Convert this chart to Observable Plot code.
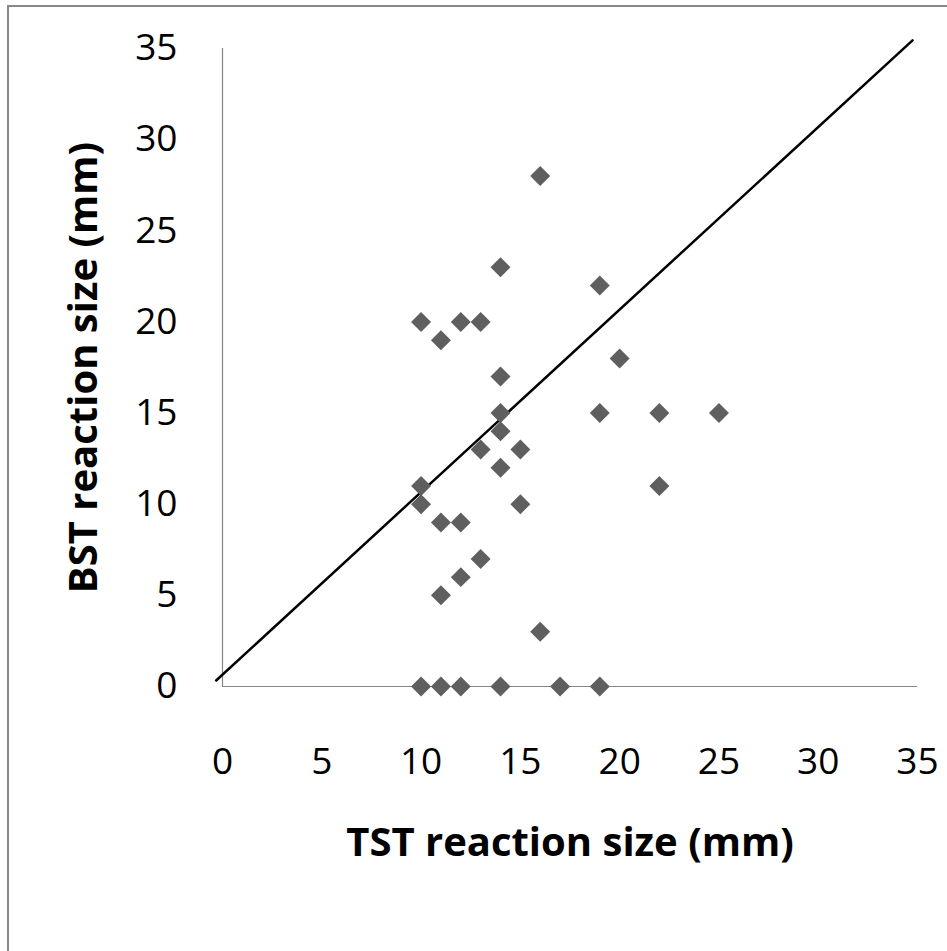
<!DOCTYPE html>
<html>
<head>
<meta charset="utf-8">
<script src="https://cdn.jsdelivr.net/npm/d3@7"></script>
<script src="https://cdn.jsdelivr.net/npm/@observablehq/plot@0.6"></script>
<style>
  html, body { margin: 0; padding: 0; background: #fff; overflow: hidden; }
  #wrap { position: relative; width: 947px; height: 951px; }
  #frame { position: absolute; left: 7px; top: 5px; width: 945px; height: 950px;
           border-top: 2.5px solid #888; border-left: 2.5px solid #888; box-sizing: border-box; pointer-events: none; }
  #chart { position: absolute; left: 0; top: 0; }
</style>
</head>
<body>
<div id="wrap"><div id="chart"></div><div id="frame"></div></div>
<script>
// TST (x) and BST (y) reaction sizes, mm
const tst = [16, 14, 19, 10, 12, 13, 11, 20, 14, 14, 19, 22, 25, 14, 13, 15, 14, 10, 22, 10, 15, 11, 12, 13, 12, 11, 16, 10, 11, 12, 14, 17, 19];
const bst = [28, 23, 22, 20, 20, 20, 19, 18, 17, 15, 15, 15, 15, 14, 13, 13, 12, 11, 11, 10, 10, 9, 9, 7, 6, 5, 3, 0, 0, 0, 0, 0, 0];
// reference (identity) line endpoints
const refX = [-0.32, 34.75];
const refY = [0.33, 35.45];
const ticks = [0, 5, 10, 15, 20, 25, 30, 35];
const xTitle = "TST reaction size (mm)";
const yTitle = "BST reaction size (mm)";

const points = tst.map((x, i) => ({x, y: bst[i]}));
const refLine = refX.map((x, i) => ({x, y: refY[i]}));

const chart = Plot.plot({
  width: 947,
  height: 951,
  marginLeft: 222,
  marginRight: 30,
  marginTop: 48,
  marginBottom: 265,
  style: {fontFamily: "'Open Sans', sans-serif", fontSize: "37px", color: "#000", background: "transparent"},
  x: {domain: [0, 35]},
  y: {domain: [0, 35]},
  marks: [
    Plot.axisX({ticks, tickSize: 0, tickPadding: 61, label: null, fontSize: 37}),
    Plot.axisY({ticks, tickSize: 0, tickPadding: 45, label: null, fontSize: 37}),
    Plot.ruleX([0], {y1: 0, y2: 35, stroke: "#868686", strokeWidth: 1.2}),
    Plot.ruleY([0], {x1: 0, x2: 35, stroke: "#868686", strokeWidth: 1.2}),
    Plot.line(refLine, {x: "x", y: "y", stroke: "#000", strokeWidth: 2.5}),
    Plot.dot(points, {x: "x", y: "y", symbol: "diamond2", r: 9, fill: "#5f5f5f", stroke: "none"}),
    Plot.text([xTitle], {text: d => d, frameAnchor: "bottom", textAnchor: "middle", lineAnchor: "top", dy: 141, fontSize: 40, fontWeight: "bold"}),
    Plot.text([yTitle], {text: d => d, frameAnchor: "left", textAnchor: "middle", rotate: -90, lineAnchor: "middle", dx: -138, fontSize: 40, fontWeight: "bold"})
  ]
});
document.getElementById("chart").appendChild(chart);
</script>
</body>
</html>
